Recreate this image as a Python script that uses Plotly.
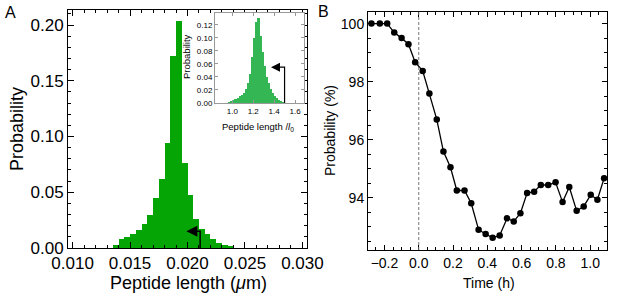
import plotly.graph_objects as go

# ---------------- data ----------------
# Panel A main histogram (bin centers in µm, bin width 0.0005)
len_bins = [0.01375, 0.01425, 0.01475, 0.01525, 0.01575, 0.01625, 0.01675,
            0.01725, 0.01775, 0.01825, 0.01875, 0.01925, 0.01975, 0.02025,
            0.02075, 0.02125, 0.02175, 0.02225, 0.02275, 0.02325, 0.02375]
len_prob = [0.0027, 0.0084, 0.0102, 0.0123, 0.0159, 0.0213, 0.0296,
            0.0449, 0.0623, 0.0946, 0.1719, 0.2039, 0.0760, 0.0473,
            0.0257, 0.0168, 0.0123, 0.0078, 0.0048, 0.0027, 0.0012]
len_bin_width = 0.0005
len_ticks = [0.010, 0.015, 0.020, 0.025, 0.030]
prob_ticks = [0.00, 0.05, 0.10, 0.15, 0.20]
# arrow in panel A: vertical stem x, stem height, head x
arrowA = [0.0211, 0.0150, 0.0199]

# Panel A inset histogram (relative length l/l0, bin width 0.02)
rel_bins = [0.97, 0.99, 1.01, 1.03, 1.05, 1.07, 1.09, 1.11, 1.13, 1.15,
            1.17, 1.19, 1.21, 1.23, 1.25, 1.27, 1.29, 1.31, 1.33, 1.35,
            1.37, 1.39, 1.41, 1.43, 1.45, 1.47, 1.49]
rel_prob = [0.001, 0.002, 0.004, 0.006, 0.008, 0.010, 0.013, 0.016, 0.021, 0.030,
            0.045, 0.070, 0.100, 0.124, 0.131, 0.102, 0.078, 0.056, 0.040, 0.030,
            0.022, 0.015, 0.010, 0.007, 0.004, 0.002, 0.001]
rel_bin_width = 0.02
rel_ticks = [1.0, 1.2, 1.4, 1.6]
inset_prob_ticks = [0.00, 0.02, 0.04, 0.06, 0.08, 0.10, 0.12]
arrowInset = [1.50, 0.055, 1.37]

# Panel B time course
time_h = [-0.276, -0.227, -0.184, -0.143, -0.100, -0.060, -0.021, 0.023, 0.062,
          0.105, 0.144, 0.185, 0.222, 0.267, 0.306, 0.349, 0.390, 0.431, 0.472,
          0.515, 0.554, 0.593, 0.632, 0.673, 0.712, 0.755, 0.798, 0.839, 0.878,
          0.921, 0.962, 1.003, 1.042, 1.081]
prob_pct = [100.0, 100.0, 100.0, 99.69, 99.50, 99.29, 98.67, 98.37, 97.59,
            96.70, 95.59, 95.05, 94.25, 94.25, 93.81, 92.90, 92.75, 92.62, 92.70,
            93.29, 93.18, 93.47, 94.16, 94.21, 94.44, 94.44, 94.53, 93.85, 94.37,
            93.55, 93.70, 94.10, 93.93, 94.67]
time_ticks = [-0.2, 0.0, 0.2, 0.4, 0.6, 0.8, 1.0]
pct_ticks = [94, 96, 98, 100]

FONT = "Liberation Sans, Arial, sans-serif"
W, H = 617, 303

def dom_x(a, b):
    return [a / W, b / W]

def dom_y(top, bottom):
    return [1 - bottom / H, 1 - top / H]

def px(x):
    return x / W

def py(y):
    return 1 - y / H

fig = go.Figure()

fig.add_trace(go.Bar(x=len_bins, y=len_prob, width=len_bin_width,
                     marker=dict(color="#06A506", line=dict(width=0)),
                     xaxis="x", yaxis="y", showlegend=False))
fig.add_trace(go.Scatter(x=[arrowA[0], arrowA[0], arrowA[2] + 0.0004],
                         y=[0, arrowA[1], arrowA[1]], mode="lines",
                         line=dict(color="black", width=1.5),
                         xaxis="x", yaxis="y", showlegend=False))
fig.add_trace(go.Scatter(x=[arrowA[2]], y=[arrowA[1]], mode="markers",
                         marker=dict(symbol="arrow-left", size=11, color="black",
                                     line=dict(width=0)),
                         xaxis="x", yaxis="y", showlegend=False))

fig.add_trace(go.Bar(x=rel_bins, y=rel_prob, width=rel_bin_width,
                     marker=dict(color="#34B654", line=dict(width=0)),
                     xaxis="x3", yaxis="y3", showlegend=False))
fig.add_trace(go.Scatter(x=[arrowInset[0], arrowInset[0], arrowInset[2] + 0.03],
                         y=[0, arrowInset[1], arrowInset[1]], mode="lines",
                         line=dict(color="black", width=1.2),
                         xaxis="x3", yaxis="y3", showlegend=False))
fig.add_trace(go.Scatter(x=[arrowInset[2]], y=[arrowInset[1]], mode="markers",
                         marker=dict(symbol="arrow-left", size=9, color="black",
                                     line=dict(width=0)),
                         xaxis="x3", yaxis="y3", showlegend=False))

fig.add_trace(go.Scatter(x=time_h, y=prob_pct, mode="lines+markers",
                         line=dict(color="black", width=1.3),
                         marker=dict(color="black", size=6.5),
                         xaxis="x2", yaxis="y2", showlegend=False))

axis_common = dict(showgrid=False, zeroline=False, showline=True, linecolor="black",
                   linewidth=1, ticks="inside", mirror="allticks", tickcolor="black",
                   automargin=False)

fig.update_layout(
    width=W, height=H, margin=dict(l=0, r=0, t=0, b=0),
    paper_bgcolor="white", plot_bgcolor="white", bargap=0,
    font=dict(family=FONT, color="black"),
    xaxis=dict(axis_common, domain=dom_x(68, 307), range=[0.0096, 0.0304],
               tickvals=len_ticks, ticktext=[f"{v:.3f}" for v in len_ticks],
               ticklen=6, tickfont=dict(size=17),
               minor=dict(ticks="inside", ticklen=3, dtick=0.001, tickcolor="black"),
               anchor="y"),
    yaxis=dict(axis_common, domain=dom_y(10, 248), range=[0, 0.2135],
               tickvals=prob_ticks, ticktext=[f"{v:.2f}" for v in prob_ticks],
               ticklen=6, tickfont=dict(size=17),
               minor=dict(ticks="inside", ticklen=3, dtick=0.01, tickcolor="black"),
               anchor="x"),
    xaxis3=dict(axis_common, domain=dom_x(215, 304), range=[0.834, 1.686],
                linecolor="#999999", tickcolor="#999999",
                tickvals=rel_ticks, ticktext=[f"{v:.1f}" for v in rel_ticks],
                ticklen=3, tickfont=dict(size=8),
                anchor="y3"),
    yaxis3=dict(axis_common, domain=dom_y(13, 103), range=[0, 0.138],
                linecolor="#999999", tickcolor="#999999",
                tickvals=inset_prob_ticks, ticktext=[f"{v:.2f}" for v in inset_prob_ticks],
                ticklen=3, tickfont=dict(size=8),
                anchor="x3"),
    xaxis2=dict(axis_common, domain=dom_x(368, 607), range=[-0.296, 1.098],
                tickvals=time_ticks, ticktext=[f"{v:.1f}".replace("-", "−") for v in time_ticks],
                ticklen=5, tickfont=dict(size=14),
                minor=dict(ticks="inside", ticklen=3, dtick=0.05, tickcolor="black"),
                anchor="y2"),
    yaxis2=dict(axis_common, domain=dom_y(12, 250), range=[92.2, 100.4],
                tickvals=pct_ticks, ticklen=5, tickfont=dict(size=14),
                minor=dict(ticks="inside", ticklen=3, dtick=0.5, tickcolor="black"),
                anchor="x2"),
    shapes=[dict(type="line", xref="x2", yref="y2 domain", x0=0, x1=0, y0=0, y1=1,
                 line=dict(color="#777777", width=1, dash="3px,2px"))],
)

titles = [
    # text, x px, y px, size, angle
    ("Peptide length (<i>μ</i>m)", 188, 283, 18, 0),
    ("Probability", 17, 129, 18, -90),
    ("Peptide length /<i>l</i><sub>0</sub>", 258, 127, 9.5, 0),
    ("Probability", 187, 57, 9.5, -90),
    ("Time (h)", 489, 283, 14, 0),
    ("Probability (%)", 330, 130, 14, -90),
    ("A", 10, 13, 16, 0),
    ("B", 323, 11.5, 16, 0),
]
for text, x, y, size, angle in titles:
    fig.add_annotation(text=text, x=px(x), y=py(y), xref="paper", yref="paper",
                       showarrow=False, font=dict(size=size), textangle=angle,
                       xanchor="center", yanchor="middle")

# remove the browser's default 8px page margin so the figure fills the window;
# hide the interactive mode bar so it does not cover panel B
fig.write_html("out.html", config={"displayModeBar": False},
               post_script="document.body.style.margin='0';")
